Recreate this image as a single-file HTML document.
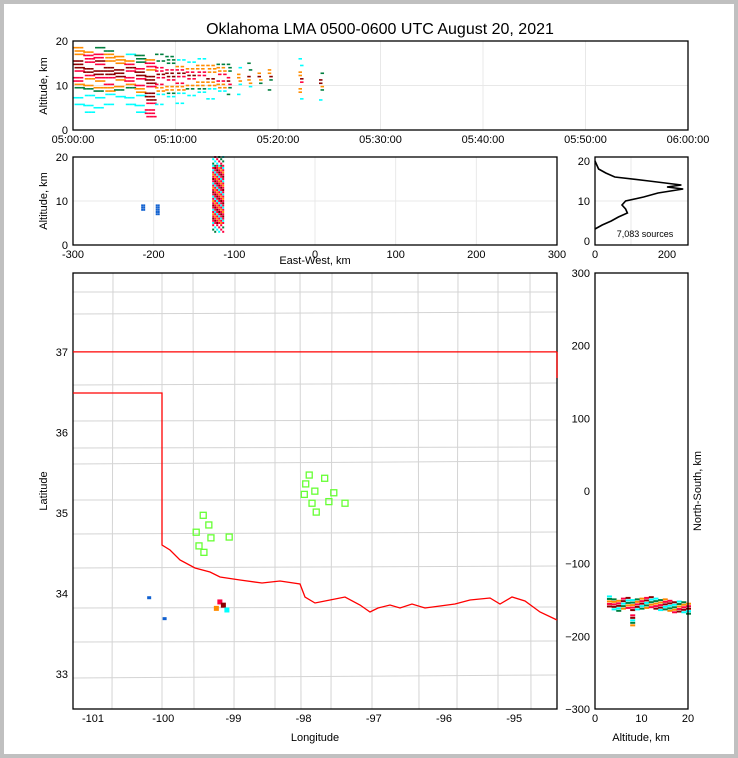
<!DOCTYPE html>
<html><head><meta charset="utf-8">
<style>
body{margin:0;background:#c0c0c0;}
#wrap{position:absolute;left:4px;top:4px;width:730px;height:750px;background:#fff;}
svg{position:absolute;left:0;top:0;font-family:"Liberation Sans",sans-serif;}
</style></head>
<body>
<div id="wrap"></div>
<svg id="s" width="738" height="758"></svg>
<script>
// ---- data ----
const topMinutes=[0,1,2,3,4,5,6,7,8,9,10,11,12,13,14,15,16,17,18,19,22,24];
const topAltLo=[5,4,5,5,6,5,4,3,5,6,6,7,7,7,8,8,8,9,9,9,7,6];
const topAltHi=[19,18,19,18,17,17,17,17,17,17,16,16,16,16,15,15,15,15,14,14,16,13];
const topCore=[14,14,14,13,13,13,12,9,12,12,12,12,12,12,12,11,12,12,12,12,11,11];
const topCoreW=[3,3,3,3,2,2,2,6,2,2,2,1,1,1,1,1,0,0,0,0,1,1];
const ewX=[-213,-195,-120];
const ewAltLo=[8,7,3];
const ewAltHi=[9,9,20];
const histAlt=[3,4,5,6,7,8,9,10,11,12,12.5,13,13.5,14,15,16,17,18,19,20];
const histCount=[0,20,45,65,90,85,75,85,135,175,210,245,200,240,150,55,30,10,5,0];
const stationLon=[-97.92,-97.70,-97.97,-97.84,-97.99,-97.57,-97.88,-97.64,-97.41,-97.82,-99.43,-99.35,-99.53,-99.32,-99.06,-99.49,-99.42];
const stationLat=[35.47,35.43,35.36,35.27,35.23,35.25,35.12,35.14,35.12,35.01,34.97,34.85,34.76,34.69,34.70,34.59,34.51];
const srcLon=[-100.2,-99.98,-99.25,-99.2,-99.15,-99.1];
const srcLat=[33.94,33.68,33.82,33.9,33.86,33.8];
const nsAlt=[3,4,5,6,7,8,9,10,11,12,13,14,15,16,17,18,19,20,8];
const nsY=[-152,-156,-158,-155,-154,-157,-156,-155,-154,-153,-155,-157,-156,-158,-160,-159,-160,-162,-178];
const colors=["#00ffff","#007f3f","#ff8c00","#ff0040","#8b0000"];

const S=document.getElementById('s');const NS='http://www.w3.org/2000/svg';
function el(t,a,p){const e=document.createElementNS(NS,t);for(const k in a)e.setAttribute(k,a[k]);(p||S).appendChild(e);return e;}
function txt(x,y,s,o){const e=el('text',Object.assign({x:x,y:y,'font-size':11,fill:'#000'},o||{}));e.textContent=s;return e;}
function frame(x0,y0,x1,y1,name){const r=el('rect',{x:x0,y:y0,width:x1-x0,height:y1-y0,fill:'none',stroke:'#000','stroke-width':1.3});}

const t=txt(380,34,'Oklahoma LMA 0500-0600 UTC August 20, 2021',{'font-size':16,'text-anchor':'middle'});


// ---- top time-height panel ----
const tx=m=>73+m*615/60, ty=a=>130-a*89/20;
for(let m=10;m<60;m+=10)el('line',{x1:tx(m),x2:tx(m),y1:41,y2:130,stroke:'#e8e8e8'});
el('line',{x1:73,x2:688,y1:ty(10),y2:ty(10),stroke:'#e8e8e8'});
topMinutes.forEach((m,i)=>{
 const n=i<8?3:(i<15?2:1);
 for(let a=topAltLo[i];a<=topAltHi[i];a+=0.75){
  for(let k=0;k<n;k++){
   const key=(i*7+Math.round(a*4)+k*5)%5;
   const d=Math.abs(a-topCore[i]);
   if(key===0 || (d>topCoreW[i]+2 && key<3))continue;
   const mm=m+k/n+(key%2)*0.15;
   let c=d<=topCoreW[i]*0.5?4:d<=topCoreW[i]?3:d<=topCoreW[i]+1.5?2:d<=topCoreW[i]+3?1:0;
   if(key===3 && c>0)c--;
   const r=el('rect',{x:tx(mm),y:ty(a)-0.8,width:3.5,height:1.6,fill:colors[c]});
   
  }}
});
frame(73,41,688,130,'time-height-axes');
['05:00:00','05:10:00','05:20:00','05:30:00','05:40:00','05:50:00','06:00:00'].forEach((s,i)=>txt(tx(i*10),143,s,{'text-anchor':'middle'}));
[0,10,20].forEach(v=>txt(68,ty(v)+4,v,{'text-anchor':'end'}));
txt(47,86,'Altitude, km',{transform:'rotate(-90 47 86)','text-anchor':'middle'});

// ---- east-west panel ----
const ex=v=>315+v*242/300, ey=a=>245-a*88/20;
[-200,-100,0,100,200].forEach(v=>el('line',{x1:ex(v),x2:ex(v),y1:157,y2:245,stroke:'#e8e8e8'}));
el('line',{x1:73,x2:557,y1:ey(10),y2:ey(10),stroke:'#e8e8e8'});
ewX.forEach((x,i)=>{
 for(let a=ewAltLo[i];a<=ewAltHi[i];a+=0.5){
  const big=ewAltHi[i]-ewAltLo[i]>5;
  const w=big?12:4;
  for(let k=0;k<w;k+=2){
   const key=(k/2+Math.round(a*2))%6;
   if(big && (a<5||a>18) && key%2===0)continue;
   const c=big?((a>4&&a<18)?[4,3,2,3,0,3][key]:[0,1,3][key%3]):0;
   const r=el('rect',{x:ex(x)-w/2+k,y:ey(a)-1,width:2,height:2,fill:big?colors[c]:'#1060d0'});
   
  }}
});
frame(73,157,557,245,'east-west-axes');
[-300,-200,-100,0,100,200,300].forEach(v=>txt(ex(v),258,v,{'text-anchor':'middle'}));
[0,10,20].forEach(v=>txt(68,ey(v)+4,v,{'text-anchor':'end'}));
txt(315,264,'East-West, km',{'text-anchor':'middle'});
txt(47,201,'Altitude, km',{transform:'rotate(-90 47 201)','text-anchor':'middle'});

// ---- histogram ----
const hx=c=>595+c*72/200, hy=a=>241-a*40/10;
el('line',{x1:595,x2:688,y1:hy(10),y2:hy(10),stroke:'#e8e8e8'});
el('line',{x1:hx(100),x2:hx(100),y1:157,y2:245,stroke:'#e8e8e8'});
const hp=el('polyline',{points:histAlt.map((a,i)=>hx(histCount[i])+','+hy(a)).join(' '),fill:'none',stroke:'#000','stroke-width':1.6});

frame(595,157,688,245,'histogram-axes');
[0,10,20].forEach(v=>txt(590,hy(v)+4,v,{'text-anchor':'end'}));
[0,200].forEach(v=>txt(hx(v),258,v,{'text-anchor':'middle'}));
txt(645,237,'7,083 sources',{'font-size':9,'text-anchor':'middle'});

// ---- map ----
const mx=l=>73+(l+101.285)*70.2, my=l=>273+(37.98-l)*80.5;
const g=el('g',{stroke:'#d4d4d4','stroke-width':1,fill:'none'});

const hl=[292,313,385,420,448,463,500,533,568,607,642,677];
hl.forEach((y,i)=>el('line',{x1:73,x2:557,y1:y+(i%2),y2:y-(i%3),},g));
const vl=[113,162,193,235,275,300,332,372,418,458,498,530];
vl.forEach((x,i)=>el('line',{x1:x,x2:x+(i%3)-1,y1:273,y2:709},g));
frame(73,273,557,709,'map-axes');
el('line',{x1:73,x2:557,y1:my(37),y2:my(37),stroke:'#f00','stroke-width':1.3});
el('line',{x1:557,x2:557,y1:my(37),y2:378,stroke:'#f00','stroke-width':1.3});
const river=[[73,393],[162,393],[162,545],[170,550],[180,560],[195,568],[210,572],[220,577],[240,580],[262,583],[280,581],[300,584],[305,597],[315,603],[330,600],[345,597],[360,605],[370,612],[378,608],[390,605],[400,608],[412,604],[425,608],[440,606],[455,604],[470,600],[490,598],[500,604],[512,597],[525,601],[540,612],[557,620]];
const rb=el('polyline',{points:river.map(p=>p.join(',')).join(' '),fill:'none',stroke:'#f00','stroke-width':1.3});

stationLon.forEach((l,i)=>{const r=el('rect',{x:mx(l)-3,y:my(stationLat[i])-3,width:6,height:6,fill:'none',stroke:'#66ff33','stroke-width':1.3});
 });
srcLon.forEach((l,i)=>{const c=i<2?'#1060d0':colors[i%5];const r=el('rect',{x:mx(l)-2,y:my(srcLat[i])-2,width:i<2?4:5,height:i<2?3:5,fill:c});
 });
[-101,-100,-99,-98,-97,-96,-95].forEach(v=>txt(mx(v),722,v,{'text-anchor':'middle'}));
[33,34,35,36,37].forEach(v=>txt(68,my(v)+4,v,{'text-anchor':'end'}));
txt(315,741,'Longitude',{'text-anchor':'middle'});
txt(47,491,'Latitude',{transform:'rotate(-90 47 491)','text-anchor':'middle'});

// ---- north-south panel ----
const nx=a=>595+a*93/20, ny=v=>491-v*436/600;
nsAlt.forEach((a,i)=>{for(let k=0;k<5;k++){const r=el('rect',{x:nx(a)-2,y:ny(nsY[i])-6+k*2.5,width:5,height:2,fill:colors[(i+k)%5]});
 }});
frame(595,273,688,709,'north-south-axes');
[300,200,100,0,-100,-200,-300].forEach(v=>txt(590,ny(v)+4,v===0?'0':(v<0?'\u2212'+(-v):v),{'text-anchor':'end'}));
[0,10,20].forEach(v=>txt(nx(v),722,v,{'text-anchor':'middle'}));
txt(641,741,'Altitude, km',{'text-anchor':'middle'});
txt(701,491,'North-South, km',{transform:'rotate(-90 701 491)','text-anchor':'middle'});
</script>
</body></html>
